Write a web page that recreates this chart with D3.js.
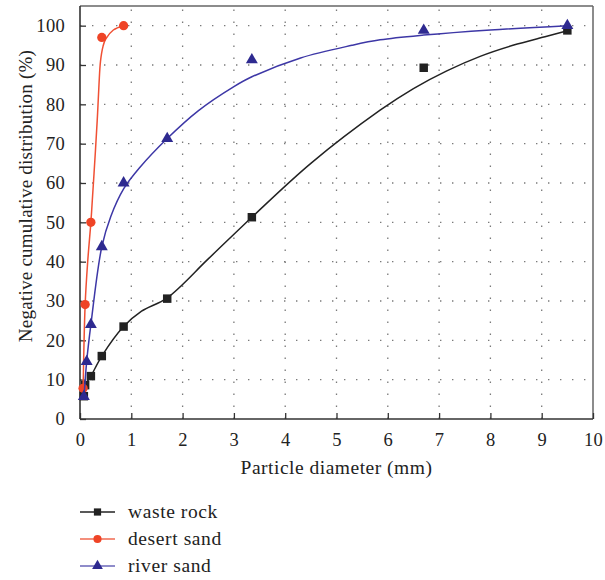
<!DOCTYPE html>
<html>
<head>
<meta charset="utf-8">
<script src="https://cdn.jsdelivr.net/npm/d3@7"></script>
<style>
  html, body { margin: 0; padding: 0; background: #fff; }
  svg { display: block; }
  text { font-family: "Liberation Serif", "DejaVu Serif", serif; fill: #222; }
</style>
</head>
<body>
<svg id="chart" width="605" height="580"></svg>
<script>
// ---- data ----
const xTicks = [0, 1, 2, 3, 4, 5, 6, 7, 8, 9, 10];
const yTicks = [0, 10, 20, 30, 40, 50, 60, 70, 80, 90, 100];
const seriesNames = ["waste rock", "desert sand", "river sand"];

// measured points
const wasteX  = [0.075, 0.1, 0.212, 0.425, 0.85, 1.7, 3.35, 6.7, 9.5];
const wasteY  = [5.8, 8.6, 10.9, 16.0, 23.5, 30.6, 51.3, 89.3, 98.8];
const desertX = [0.06, 0.1, 0.212, 0.425, 0.85];
const desertY = [7.8, 29.1, 50.0, 97.0, 100.0];
const riverX  = [0.075, 0.13, 0.212, 0.425, 0.85, 1.7, 3.35, 6.7, 9.5];
const riverY  = [5.7, 14.6, 24.0, 43.8, 60.0, 71.3, 91.3, 98.8, 100.0];

// fitted curves
const wasteFitX  = [0.075, 0.1, 0.212, 0.425, 0.85, 1.2, 1.7, 2.5, 3.35, 4.5, 5.85, 6.5, 7.15, 7.8, 8.44, 9.1, 9.5];
const wasteFitY  = [5.8, 8.6, 10.9, 16.0, 23.5, 27.4, 30.8, 40.7, 51.3, 65.0, 78.5, 84.0, 88.5, 92.2, 95.0, 97.3, 98.7];
const desertFitX = [0.06, 0.1, 0.15, 0.212, 0.24, 0.3, 0.34, 0.37, 0.4, 0.45, 0.5, 0.65, 0.85];
const desertFitY = [7.0, 29.0, 40.0, 50.0, 55.6, 68.0, 77.0, 85.0, 91.0, 94.8, 96.6, 98.9, 100.0];
const riverFitX  = [0.075, 0.13, 0.212, 0.425, 0.6, 0.85, 1.17, 1.7, 2.31, 3.0, 3.35, 4.3, 5.3, 5.85, 6.7, 8.0, 9.5];
const riverFitY  = [5.0, 14.6, 24.0, 43.8, 51.5, 58.5, 64.0, 71.3, 78.4, 84.5, 87.0, 91.8, 95.0, 96.4, 97.6, 98.9, 100.0];

const colors = ["#222222", "#ef4426", "#2e2a90"];
const lineColors = ["#222222", "#f05034", "#3d37a6"];

// ---- layout ----
const svg = d3.select("#chart");
const L = 80, R = 593, T = 6, B = 419;
const x = d3.scaleLinear().domain([0, 10]).range([L, R]);
const y = d3.scaleLinear().domain([0, 105]).range([B, T]);

// grid (dotted)
const grid = svg.append("g");
grid.selectAll("line.gx").data(xTicks.filter(d => d > 0 && d < 10)).join("line")
  .attr("x1", d => x(d)).attr("x2", d => x(d)).attr("y1", B).attr("y2", T)
  .attr("stroke", "#7a7a7a").attr("stroke-width", 1.3).attr("stroke-dasharray", "1.4 10.6");
grid.selectAll("line.gy").data(yTicks.filter(d => d > 0)).join("line")
  .attr("x1", L).attr("x2", R).attr("y1", d => y(d)).attr("y2", d => y(d))
  .attr("stroke", "#7a7a7a").attr("stroke-width", 1.3).attr("stroke-dasharray", "1.4 10.6");

// frame
svg.append("line").attr("x1", L).attr("x2", R).attr("y1", T).attr("y2", T).attr("stroke", "#666").attr("stroke-width", 1.5);
svg.append("line").attr("x1", R).attr("x2", R).attr("y1", T).attr("y2", B).attr("stroke", "#666").attr("stroke-width", 1.5);

// axes
const xAxis = d3.axisBottom(x).tickValues(xTicks).tickSizeInner(-6).tickSizeOuter(0).tickPadding(14);
const yAxis = d3.axisLeft(y).tickValues(yTicks).tickSizeInner(-6).tickSizeOuter(0).tickPadding(15);
const gx = svg.append("g").attr("transform", `translate(0,${B})`).call(xAxis);
const gy = svg.append("g").attr("transform", `translate(${L},0)`).call(yAxis);
[gx, gy].forEach(g => {
  g.select(".domain").attr("stroke", "#333").attr("stroke-width", 1.6);
  g.selectAll(".tick line").attr("stroke", "#333").attr("stroke-width", 1.3);
  g.selectAll(".tick text").attr("font-family", "Liberation Serif, serif").attr("font-size", 18.5)
    .attr("letter-spacing", 0.3).attr("fill", "#222");
});
gy.select(".domain").attr("d", `M0,${T}V${B}`);
gx.select(".domain").attr("d", `M${L},0H${R}`);

// axis titles
svg.append("text").attr("x", (L + R) / 2).attr("y", 474).attr("text-anchor", "middle")
  .attr("font-size", 19.5).attr("letter-spacing", 0.5).text("Particle diameter (mm)");
svg.append("text").attr("transform", `translate(32,196) rotate(-90)`).attr("text-anchor", "middle")
  .attr("font-size", 19).attr("letter-spacing", 0.25).text("Negative cumulative distribution (%)");

// curves
const lineGen = d3.line().x(d => x(d[0])).y(d => y(d[1])).curve(d3.curveCatmullRom.alpha(0.5));
const fits = [
  d3.zip(wasteFitX, wasteFitY),
  d3.zip(desertFitX, desertFitY),
  d3.zip(riverFitX, riverFitY)
];
const pts = [
  d3.zip(wasteX, wasteY),
  d3.zip(desertX, desertY),
  d3.zip(riverX, riverY)
];

const sq = d3.symbol().type(d3.symbolSquare).size(72);
const ci = d3.symbol().type(d3.symbolCircle).size(68);
const tri = d3.symbol().type(d3.symbolTriangle).size(62);
const syms = [sq, ci, tri];

fits.forEach((f, i) => {
  svg.append("path").datum(f).attr("d", lineGen).attr("fill", "none")
    .attr("stroke", lineColors[i]).attr("stroke-width", 1.5);
  svg.append("g").selectAll("path").data(pts[i]).join("path")
    .attr("transform", d => `translate(${x(d[0])},${y(d[1])})`)
    .attr("d", syms[i]()).attr("fill", colors[i]);
});

// legend
const legendLine = ["#222222", "#f06a50", "#6a66b8"];
const leg = svg.append("g");
seriesNames.forEach((name, i) => {
  const yy = 512 + i * 27;
  leg.append("line").attr("x1", 80).attr("x2", 115).attr("y1", yy).attr("y2", yy)
    .attr("stroke", legendLine[i]).attr("stroke-width", 1.5);
  leg.append("path").attr("transform", `translate(97.5,${yy})`)
    .attr("d", [d3.symbol().type(d3.symbolSquare).size(52), d3.symbol().type(d3.symbolCircle).size(52), d3.symbol().type(d3.symbolTriangle).size(50)][i]())
    .attr("fill", colors[i]);
  leg.append("text").attr("x", 128).attr("y", yy + 6).attr("font-size", 19.5)
    .attr("letter-spacing", 0.6).text(name);
});
</script>
</body>
</html>
